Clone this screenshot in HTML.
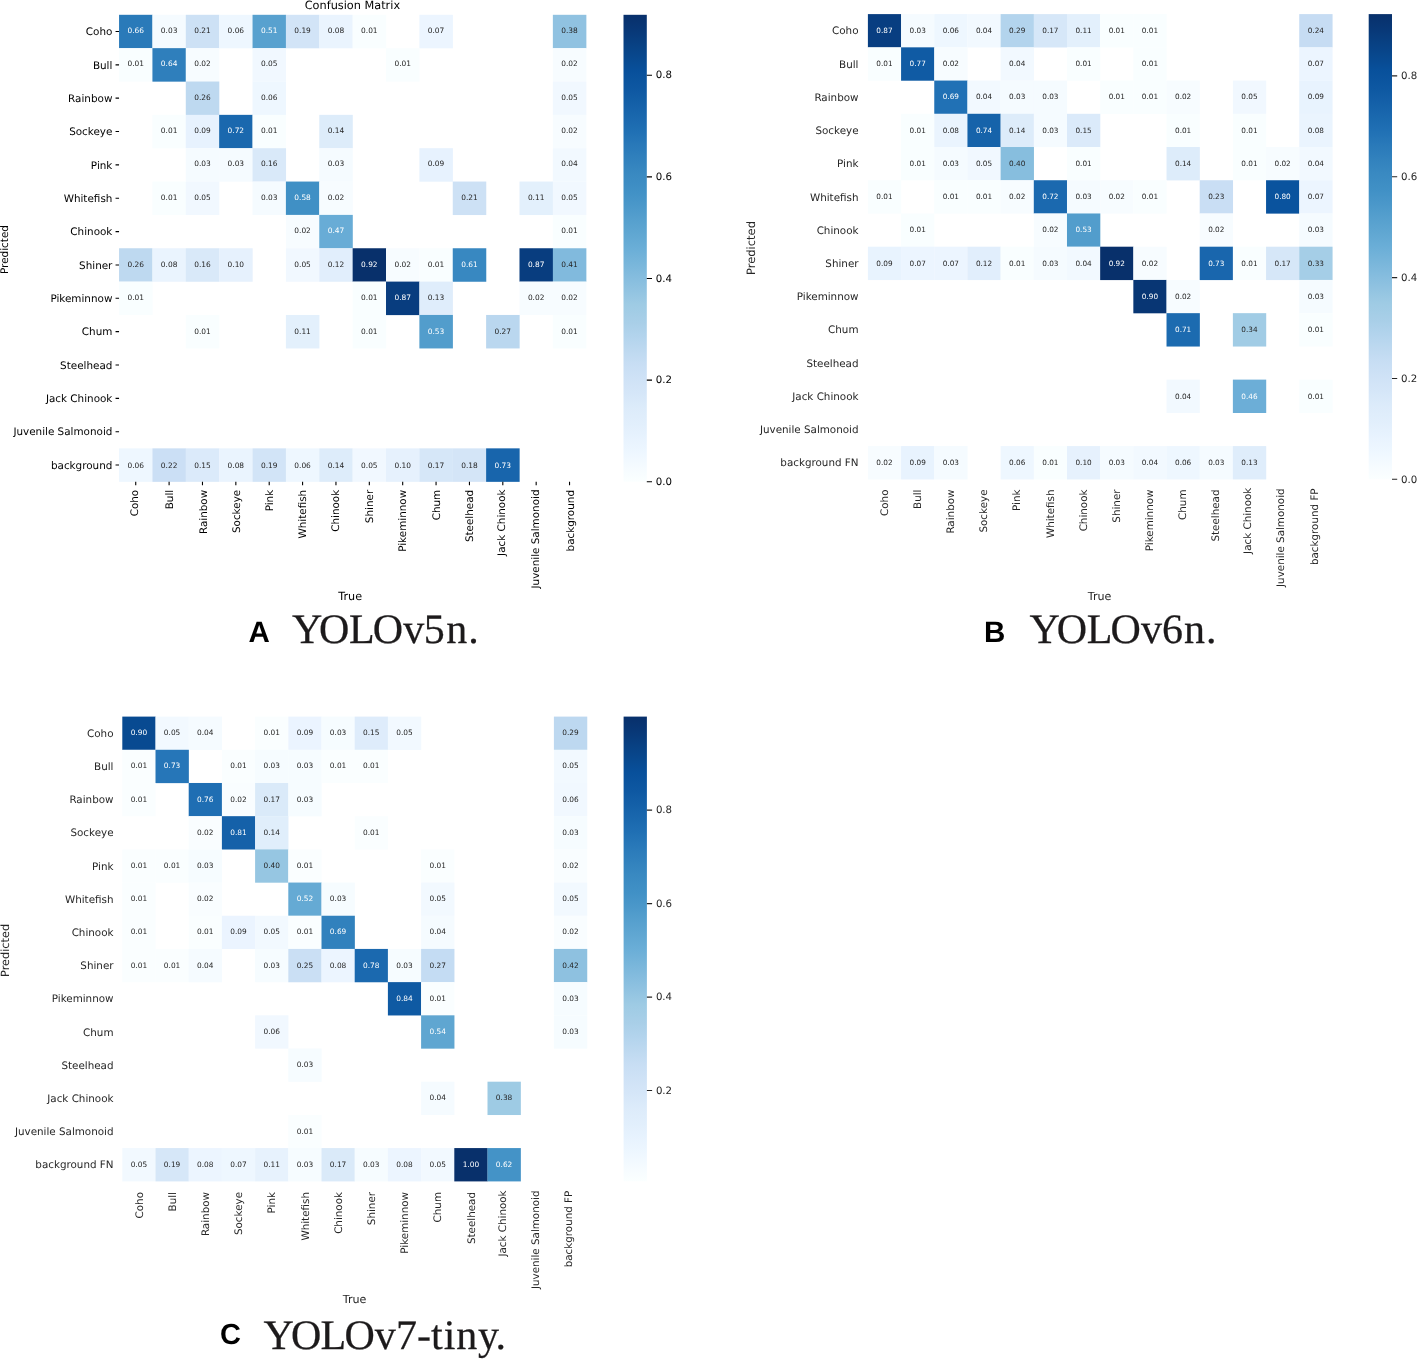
<!DOCTYPE html>
<html lang="en"><head><meta charset="utf-8"><title>Confusion matrices</title>
<style>
html,body{margin:0;padding:0;background:#fff;}
body{width:1417px;height:1359px;overflow:hidden;}
svg{display:block;font-family:"DejaVu Sans","Liberation Sans",sans-serif;}
</style></head><body>
<svg width="1417" height="1359" viewBox="0 0 1417 1359" text-rendering="geometricPrecision">
<rect width="1417" height="1359" fill="#fff"/>
<g>
<rect x="119.05" y="14.8" width="33.52" height="33.5" fill="#2a7ab9"/>
<rect x="152.42" y="14.8" width="33.52" height="33.5" fill="#f5fbff"/>
<rect x="185.79" y="14.8" width="33.52" height="33.5" fill="#cde1f5"/>
<rect x="219.16" y="14.8" width="33.52" height="33.5" fill="#eef7ff"/>
<rect x="252.53" y="14.8" width="33.52" height="33.5" fill="#58a1cf"/>
<rect x="285.9" y="14.8" width="33.52" height="33.5" fill="#d2e4f7"/>
<rect x="319.27" y="14.8" width="33.52" height="33.5" fill="#eaf4fe"/>
<rect x="352.64" y="14.8" width="33.52" height="33.5" fill="#f9feff"/>
<rect x="419.38" y="14.8" width="33.52" height="33.5" fill="#ecf5ff"/>
<rect x="552.86" y="14.8" width="33.52" height="33.5" fill="#90c2e1"/>
<rect x="119.05" y="48.15" width="33.52" height="33.5" fill="#f9feff"/>
<rect x="152.42" y="48.15" width="33.52" height="33.5" fill="#2f7fbc"/>
<rect x="185.79" y="48.15" width="33.52" height="33.5" fill="#f7fcff"/>
<rect x="252.53" y="48.15" width="33.52" height="33.5" fill="#f1f8ff"/>
<rect x="386.01" y="48.15" width="33.52" height="33.5" fill="#f9feff"/>
<rect x="552.86" y="48.15" width="33.52" height="33.5" fill="#f7fcff"/>
<rect x="185.79" y="81.5" width="33.52" height="33.5" fill="#bed9f0"/>
<rect x="252.53" y="81.5" width="33.52" height="33.5" fill="#eef7ff"/>
<rect x="552.86" y="81.5" width="33.52" height="33.5" fill="#f1f8ff"/>
<rect x="152.42" y="114.85" width="33.52" height="33.5" fill="#f9feff"/>
<rect x="185.79" y="114.85" width="33.52" height="33.5" fill="#e7f2fe"/>
<rect x="219.16" y="114.85" width="33.52" height="33.5" fill="#1a68ae"/>
<rect x="252.53" y="114.85" width="33.52" height="33.5" fill="#f9feff"/>
<rect x="319.27" y="114.85" width="33.52" height="33.5" fill="#ddecfa"/>
<rect x="552.86" y="114.85" width="33.52" height="33.5" fill="#f7fcff"/>
<rect x="185.79" y="148.2" width="33.52" height="33.5" fill="#f5fbff"/>
<rect x="219.16" y="148.2" width="33.52" height="33.5" fill="#f5fbff"/>
<rect x="252.53" y="148.2" width="33.52" height="33.5" fill="#d9e9f9"/>
<rect x="319.27" y="148.2" width="33.52" height="33.5" fill="#f5fbff"/>
<rect x="419.38" y="148.2" width="33.52" height="33.5" fill="#e7f2fe"/>
<rect x="552.86" y="148.2" width="33.52" height="33.5" fill="#f2f9ff"/>
<rect x="152.42" y="181.55" width="33.52" height="33.5" fill="#f9feff"/>
<rect x="185.79" y="181.55" width="33.52" height="33.5" fill="#f1f8ff"/>
<rect x="252.53" y="181.55" width="33.52" height="33.5" fill="#f5fbff"/>
<rect x="285.9" y="181.55" width="33.52" height="33.5" fill="#4090c5"/>
<rect x="319.27" y="181.55" width="33.52" height="33.5" fill="#f7fcff"/>
<rect x="452.75" y="181.55" width="33.52" height="33.5" fill="#cde1f5"/>
<rect x="519.49" y="181.55" width="33.52" height="33.5" fill="#e3f0fc"/>
<rect x="552.86" y="181.55" width="33.52" height="33.5" fill="#f1f8ff"/>
<rect x="285.9" y="214.9" width="33.52" height="33.5" fill="#f7fcff"/>
<rect x="319.27" y="214.9" width="33.52" height="33.5" fill="#68acd6"/>
<rect x="552.86" y="214.9" width="33.52" height="33.5" fill="#f9feff"/>
<rect x="119.05" y="248.25" width="33.52" height="33.5" fill="#bed9f0"/>
<rect x="152.42" y="248.25" width="33.52" height="33.5" fill="#eaf4fe"/>
<rect x="185.79" y="248.25" width="33.52" height="33.5" fill="#d9e9f9"/>
<rect x="219.16" y="248.25" width="33.52" height="33.5" fill="#e6f1fd"/>
<rect x="285.9" y="248.25" width="33.52" height="33.5" fill="#f1f8ff"/>
<rect x="319.27" y="248.25" width="33.52" height="33.5" fill="#e1eefc"/>
<rect x="352.64" y="248.25" width="33.52" height="33.5" fill="#08306b"/>
<rect x="386.01" y="248.25" width="33.52" height="33.5" fill="#f7fcff"/>
<rect x="419.38" y="248.25" width="33.52" height="33.5" fill="#f9feff"/>
<rect x="452.75" y="248.25" width="33.52" height="33.5" fill="#3888c1"/>
<rect x="519.49" y="248.25" width="33.52" height="33.5" fill="#083d7f"/>
<rect x="552.86" y="248.25" width="33.52" height="33.5" fill="#81badd"/>
<rect x="119.05" y="281.6" width="33.52" height="33.5" fill="#f9feff"/>
<rect x="352.64" y="281.6" width="33.52" height="33.5" fill="#f9feff"/>
<rect x="386.01" y="281.6" width="33.52" height="33.5" fill="#083d7f"/>
<rect x="419.38" y="281.6" width="33.52" height="33.5" fill="#dfedfb"/>
<rect x="519.49" y="281.6" width="33.52" height="33.5" fill="#f7fcff"/>
<rect x="552.86" y="281.6" width="33.52" height="33.5" fill="#f7fcff"/>
<rect x="185.79" y="314.95" width="33.52" height="33.5" fill="#f9feff"/>
<rect x="285.9" y="314.95" width="33.52" height="33.5" fill="#e3f0fc"/>
<rect x="352.64" y="314.95" width="33.52" height="33.5" fill="#f9feff"/>
<rect x="419.38" y="314.95" width="33.52" height="33.5" fill="#529dcc"/>
<rect x="486.12" y="314.95" width="33.52" height="33.5" fill="#bad7ef"/>
<rect x="552.86" y="314.95" width="33.52" height="33.5" fill="#f9feff"/>
<rect x="119.05" y="448.35" width="33.52" height="33.5" fill="#eef7ff"/>
<rect x="152.42" y="448.35" width="33.52" height="33.5" fill="#cbdff5"/>
<rect x="185.79" y="448.35" width="33.52" height="33.5" fill="#dbeafa"/>
<rect x="219.16" y="448.35" width="33.52" height="33.5" fill="#eaf4fe"/>
<rect x="252.53" y="448.35" width="33.52" height="33.5" fill="#d2e4f7"/>
<rect x="285.9" y="448.35" width="33.52" height="33.5" fill="#eef7ff"/>
<rect x="319.27" y="448.35" width="33.52" height="33.5" fill="#ddecfa"/>
<rect x="352.64" y="448.35" width="33.52" height="33.5" fill="#f1f8ff"/>
<rect x="386.01" y="448.35" width="33.52" height="33.5" fill="#e6f1fd"/>
<rect x="419.38" y="448.35" width="33.52" height="33.5" fill="#d6e7f8"/>
<rect x="452.75" y="448.35" width="33.52" height="33.5" fill="#d4e5f7"/>
<rect x="486.12" y="448.35" width="33.52" height="33.5" fill="#1865ac"/>
<g font-size="7.45" text-anchor="middle">
<text x="135.73" y="32.67" fill="#ffffff">0.66</text>
<text x="169.1" y="32.67" fill="#262626">0.03</text>
<text x="202.47" y="32.67" fill="#262626">0.21</text>
<text x="235.84" y="32.67" fill="#262626">0.06</text>
<text x="269.21" y="32.67" fill="#ffffff">0.51</text>
<text x="302.58" y="32.67" fill="#262626">0.19</text>
<text x="335.95" y="32.67" fill="#262626">0.08</text>
<text x="369.32" y="32.67" fill="#262626">0.01</text>
<text x="436.06" y="32.67" fill="#262626">0.07</text>
<text x="569.54" y="32.67" fill="#262626">0.38</text>
<text x="135.73" y="66.13" fill="#262626">0.01</text>
<text x="169.1" y="66.13" fill="#ffffff">0.64</text>
<text x="202.47" y="66.13" fill="#262626">0.02</text>
<text x="269.21" y="66.13" fill="#262626">0.05</text>
<text x="402.69" y="66.13" fill="#262626">0.01</text>
<text x="569.54" y="66.13" fill="#262626">0.02</text>
<text x="202.47" y="99.58" fill="#262626">0.26</text>
<text x="269.21" y="99.58" fill="#262626">0.06</text>
<text x="569.54" y="99.58" fill="#262626">0.05</text>
<text x="169.1" y="133.03" fill="#262626">0.01</text>
<text x="202.47" y="133.03" fill="#262626">0.09</text>
<text x="235.84" y="133.03" fill="#ffffff">0.72</text>
<text x="269.21" y="133.03" fill="#262626">0.01</text>
<text x="335.95" y="133.03" fill="#262626">0.14</text>
<text x="569.54" y="133.03" fill="#262626">0.02</text>
<text x="202.47" y="166.48" fill="#262626">0.03</text>
<text x="235.84" y="166.48" fill="#262626">0.03</text>
<text x="269.21" y="166.48" fill="#262626">0.16</text>
<text x="335.95" y="166.48" fill="#262626">0.03</text>
<text x="436.06" y="166.48" fill="#262626">0.09</text>
<text x="569.54" y="166.48" fill="#262626">0.04</text>
<text x="169.1" y="199.93" fill="#262626">0.01</text>
<text x="202.47" y="199.93" fill="#262626">0.05</text>
<text x="269.21" y="199.93" fill="#262626">0.03</text>
<text x="302.58" y="199.93" fill="#ffffff">0.58</text>
<text x="335.95" y="199.93" fill="#262626">0.02</text>
<text x="469.44" y="199.93" fill="#262626">0.21</text>
<text x="536.17" y="199.93" fill="#262626">0.11</text>
<text x="569.54" y="199.93" fill="#262626">0.05</text>
<text x="302.58" y="233.38" fill="#262626">0.02</text>
<text x="335.95" y="233.38" fill="#ffffff">0.47</text>
<text x="569.54" y="233.38" fill="#262626">0.01</text>
<text x="135.73" y="266.82" fill="#262626">0.26</text>
<text x="169.1" y="266.82" fill="#262626">0.08</text>
<text x="202.47" y="266.82" fill="#262626">0.16</text>
<text x="235.84" y="266.82" fill="#262626">0.10</text>
<text x="302.58" y="266.82" fill="#262626">0.05</text>
<text x="335.95" y="266.82" fill="#262626">0.12</text>
<text x="369.32" y="266.82" fill="#ffffff">0.92</text>
<text x="402.69" y="266.82" fill="#262626">0.02</text>
<text x="436.06" y="266.82" fill="#262626">0.01</text>
<text x="469.44" y="266.82" fill="#ffffff">0.61</text>
<text x="536.17" y="266.82" fill="#ffffff">0.87</text>
<text x="569.54" y="266.82" fill="#262626">0.41</text>
<text x="135.73" y="300.28" fill="#262626">0.01</text>
<text x="369.32" y="300.28" fill="#262626">0.01</text>
<text x="402.69" y="300.28" fill="#ffffff">0.87</text>
<text x="436.06" y="300.28" fill="#262626">0.13</text>
<text x="536.17" y="300.28" fill="#262626">0.02</text>
<text x="569.54" y="300.28" fill="#262626">0.02</text>
<text x="202.47" y="333.72" fill="#262626">0.01</text>
<text x="302.58" y="333.72" fill="#262626">0.11</text>
<text x="369.32" y="333.72" fill="#262626">0.01</text>
<text x="436.06" y="333.72" fill="#ffffff">0.53</text>
<text x="502.81" y="333.72" fill="#262626">0.27</text>
<text x="569.54" y="333.72" fill="#262626">0.01</text>
<text x="135.73" y="467.53" fill="#262626">0.06</text>
<text x="169.1" y="467.53" fill="#262626">0.22</text>
<text x="202.47" y="467.53" fill="#262626">0.15</text>
<text x="235.84" y="467.53" fill="#262626">0.08</text>
<text x="269.21" y="467.53" fill="#262626">0.19</text>
<text x="302.58" y="467.53" fill="#262626">0.06</text>
<text x="335.95" y="467.53" fill="#262626">0.14</text>
<text x="369.32" y="467.53" fill="#262626">0.05</text>
<text x="402.69" y="467.53" fill="#262626">0.10</text>
<text x="436.06" y="467.53" fill="#262626">0.17</text>
<text x="469.44" y="467.53" fill="#262626">0.18</text>
<text x="502.81" y="467.53" fill="#ffffff">0.73</text>
</g>
<g font-size="10.4" text-anchor="end" fill="#000000">
<text x="112.4" y="35.18">Coho</text>
<text x="112.4" y="68.53">Bull</text>
<text x="112.4" y="101.88">Rainbow</text>
<text x="112.4" y="135.22">Sockeye</text>
<text x="112.4" y="168.58">Pink</text>
<text x="112.4" y="201.93">Whitefish</text>
<text x="112.4" y="235.28">Chinook</text>
<text x="112.4" y="268.62">Shiner</text>
<text x="112.4" y="301.98">Pikeminnow</text>
<text x="112.4" y="335.32">Chum</text>
<text x="112.4" y="368.68">Steelhead</text>
<text x="112.4" y="402.03">Jack Chinook</text>
<text x="112.4" y="435.38">Juvenile Salmonoid</text>
<text x="112.4" y="468.73">background</text>
</g>
<g font-size="10.4" text-anchor="end" fill="#000000">
<text transform="translate(138.23 489.8) rotate(-90)">Coho</text>
<text transform="translate(172.8 489.8) rotate(-90)">Bull</text>
<text transform="translate(206.87 489.8) rotate(-90)">Rainbow</text>
<text transform="translate(239.54 489.8) rotate(-90)">Sockeye</text>
<text transform="translate(272.91 489.8) rotate(-90)">Pink</text>
<text transform="translate(306.28 489.8) rotate(-90)">Whitefish</text>
<text transform="translate(338.75 489.8) rotate(-90)">Chinook</text>
<text transform="translate(373.02 489.8) rotate(-90)">Shiner</text>
<text transform="translate(406.39 489.8) rotate(-90)">Pikeminnow</text>
<text transform="translate(439.76 489.8) rotate(-90)">Chum</text>
<text transform="translate(473.13 489.8) rotate(-90)">Steelhead</text>
<text transform="translate(504.9 489.4) rotate(-90)">Jack Chinook</text>
<text transform="translate(538.58 489.5) rotate(-90)">Juvenile Salmonoid</text>
<text transform="translate(574.14 490) rotate(-90)">background</text>
</g>
<path d="M115.55 31.48h3.5M115.55 64.83h3.5M115.55 98.17h3.5M115.55 131.53h3.5M115.55 164.88h3.5M115.55 198.23h3.5M115.55 231.58h3.5M115.55 264.93h3.5M115.55 298.28h3.5M115.55 331.62h3.5M115.55 364.98h3.5M115.55 398.33h3.5M115.55 431.68h3.5M115.55 465.03h3.5M135.73 481.7v3.5M169.1 481.7v3.5M202.47 481.7v3.5M235.84 481.7v3.5M269.21 481.7v3.5M302.58 481.7v3.5M335.95 481.7v3.5M369.32 481.7v3.5M402.69 481.7v3.5M436.06 481.7v3.5M469.44 481.7v3.5M502.81 481.7v3.5M536.17 481.7v3.5M569.54 481.7v3.5" stroke="#000" stroke-width="1.1" fill="none"/>
<text x="350.2" y="599.8" font-size="11.2" text-anchor="middle" fill="#000000">True</text>
<text transform="translate(7.8 249.5) rotate(-90)" font-size="10.45" text-anchor="middle" fill="#000000">Predicted</text>
<text x="352.4" y="8.8" font-size="11.3" text-anchor="middle" fill="#000000">Confusion Matrix</text>
<defs><linearGradient id="ga" x1="0" y1="0" x2="0" y2="1"><stop offset="0" stop-color="#08306b"/><stop offset="0.03" stop-color="#083776"/><stop offset="0.06" stop-color="#084082"/><stop offset="0.09" stop-color="#08488e"/><stop offset="0.12" stop-color="#08509b"/><stop offset="0.16" stop-color="#0e58a2"/><stop offset="0.19" stop-color="#1460a8"/><stop offset="0.22" stop-color="#1a68ae"/><stop offset="0.25" stop-color="#2070b4"/><stop offset="0.28" stop-color="#2979b9"/><stop offset="0.31" stop-color="#3181bd"/><stop offset="0.34" stop-color="#3989c1"/><stop offset="0.38" stop-color="#4191c6"/><stop offset="0.41" stop-color="#4b98ca"/><stop offset="0.44" stop-color="#56a0ce"/><stop offset="0.47" stop-color="#60a7d2"/><stop offset="0.5" stop-color="#6aaed7"/><stop offset="0.53" stop-color="#77b5da"/><stop offset="0.56" stop-color="#84bcde"/><stop offset="0.59" stop-color="#91c3e1"/><stop offset="0.62" stop-color="#9ecbe4"/><stop offset="0.66" stop-color="#a9cfe8"/><stop offset="0.69" stop-color="#b3d4ed"/><stop offset="0.72" stop-color="#bed9f0"/><stop offset="0.75" stop-color="#c8def4"/><stop offset="0.78" stop-color="#cfe2f6"/><stop offset="0.81" stop-color="#d5e6f8"/><stop offset="0.84" stop-color="#dcebfa"/><stop offset="0.88" stop-color="#e2effc"/><stop offset="0.91" stop-color="#e8f3fe"/><stop offset="0.94" stop-color="#eef7ff"/><stop offset="0.97" stop-color="#f5fbff"/><stop offset="1" stop-color="#fbffff"/></linearGradient></defs>
<rect x="623.5" y="14.8" width="23.3" height="466.9" fill="url(#ga)"/>
<g font-size="10.2" fill="#000000">
<text x="655.8" y="484.9">0.0</text>
<text x="655.8" y="383.29">0.2</text>
<text x="655.8" y="281.68">0.4</text>
<text x="655.8" y="180.07">0.6</text>
<text x="655.8" y="78.46">0.8</text>
</g>
<path d="M646.8 481.7h5.2M646.8 380.09h5.2M646.8 278.48h5.2M646.8 176.87h5.2M646.8 75.26h5.2" stroke="#000000" stroke-width="1.1" fill="none"/>
<text x="248.6" y="642" font-family="'Liberation Sans',sans-serif" font-weight="bold" font-size="29.5" fill="#000">A</text>
<text x="292.01 319.09 349.05 372.86 403.29 423.71 446.18 468.18" y="643.1" font-family="'Liberation Serif',serif" font-size="42" fill="#1c1a1b" stroke="#1c1a1b" stroke-width="0.25">YOLOv5n.</text>
</g>
<g>
<rect x="867.9" y="14.1" width="33.33" height="33.38" fill="#083e81"/>
<rect x="901.08" y="14.1" width="33.33" height="33.38" fill="#f5fbff"/>
<rect x="934.26" y="14.1" width="33.33" height="33.38" fill="#eef7ff"/>
<rect x="967.44" y="14.1" width="33.33" height="33.38" fill="#f2f9ff"/>
<rect x="1000.62" y="14.1" width="33.33" height="33.38" fill="#b3d4ed"/>
<rect x="1033.8" y="14.1" width="33.33" height="33.38" fill="#d6e7f8"/>
<rect x="1066.98" y="14.1" width="33.33" height="33.38" fill="#e3f0fc"/>
<rect x="1100.16" y="14.1" width="33.33" height="33.38" fill="#f9feff"/>
<rect x="1133.34" y="14.1" width="33.33" height="33.38" fill="#f9feff"/>
<rect x="1299.24" y="14.1" width="33.33" height="33.38" fill="#c6dcf3"/>
<rect x="867.9" y="47.33" width="33.33" height="33.38" fill="#f9feff"/>
<rect x="901.08" y="47.33" width="33.33" height="33.38" fill="#105ba4"/>
<rect x="934.26" y="47.33" width="33.33" height="33.38" fill="#f7fcff"/>
<rect x="1000.62" y="47.33" width="33.33" height="33.38" fill="#f2f9ff"/>
<rect x="1066.98" y="47.33" width="33.33" height="33.38" fill="#f9feff"/>
<rect x="1133.34" y="47.33" width="33.33" height="33.38" fill="#f9feff"/>
<rect x="1299.24" y="47.33" width="33.33" height="33.38" fill="#ecf5ff"/>
<rect x="934.26" y="80.56" width="33.33" height="33.38" fill="#2171b5"/>
<rect x="967.44" y="80.56" width="33.33" height="33.38" fill="#f2f9ff"/>
<rect x="1000.62" y="80.56" width="33.33" height="33.38" fill="#f5fbff"/>
<rect x="1033.8" y="80.56" width="33.33" height="33.38" fill="#f5fbff"/>
<rect x="1100.16" y="80.56" width="33.33" height="33.38" fill="#f9feff"/>
<rect x="1133.34" y="80.56" width="33.33" height="33.38" fill="#f9feff"/>
<rect x="1166.52" y="80.56" width="33.33" height="33.38" fill="#f7fcff"/>
<rect x="1232.88" y="80.56" width="33.33" height="33.38" fill="#f1f8ff"/>
<rect x="1299.24" y="80.56" width="33.33" height="33.38" fill="#e8f3fe"/>
<rect x="901.08" y="113.79" width="33.33" height="33.38" fill="#f9feff"/>
<rect x="934.26" y="113.79" width="33.33" height="33.38" fill="#eaf4fe"/>
<rect x="967.44" y="113.79" width="33.33" height="33.38" fill="#1663aa"/>
<rect x="1000.62" y="113.79" width="33.33" height="33.38" fill="#ddecfa"/>
<rect x="1033.8" y="113.79" width="33.33" height="33.38" fill="#f5fbff"/>
<rect x="1066.98" y="113.79" width="33.33" height="33.38" fill="#dbeafa"/>
<rect x="1166.52" y="113.79" width="33.33" height="33.38" fill="#f9feff"/>
<rect x="1232.88" y="113.79" width="33.33" height="33.38" fill="#f9feff"/>
<rect x="1299.24" y="113.79" width="33.33" height="33.38" fill="#eaf4fe"/>
<rect x="901.08" y="147.02" width="33.33" height="33.38" fill="#f9feff"/>
<rect x="934.26" y="147.02" width="33.33" height="33.38" fill="#f5fbff"/>
<rect x="967.44" y="147.02" width="33.33" height="33.38" fill="#f1f8ff"/>
<rect x="1000.62" y="147.02" width="33.33" height="33.38" fill="#87bede"/>
<rect x="1066.98" y="147.02" width="33.33" height="33.38" fill="#f9feff"/>
<rect x="1166.52" y="147.02" width="33.33" height="33.38" fill="#ddecfa"/>
<rect x="1232.88" y="147.02" width="33.33" height="33.38" fill="#f9feff"/>
<rect x="1266.06" y="147.02" width="33.33" height="33.38" fill="#f7fcff"/>
<rect x="1299.24" y="147.02" width="33.33" height="33.38" fill="#f2f9ff"/>
<rect x="867.9" y="180.24" width="33.33" height="33.38" fill="#f9feff"/>
<rect x="934.26" y="180.24" width="33.33" height="33.38" fill="#f9feff"/>
<rect x="967.44" y="180.24" width="33.33" height="33.38" fill="#f9feff"/>
<rect x="1000.62" y="180.24" width="33.33" height="33.38" fill="#f7fcff"/>
<rect x="1033.8" y="180.24" width="33.33" height="33.38" fill="#1b69af"/>
<rect x="1066.98" y="180.24" width="33.33" height="33.38" fill="#f5fbff"/>
<rect x="1100.16" y="180.24" width="33.33" height="33.38" fill="#f7fcff"/>
<rect x="1133.34" y="180.24" width="33.33" height="33.38" fill="#f9feff"/>
<rect x="1199.7" y="180.24" width="33.33" height="33.38" fill="#c9def4"/>
<rect x="1266.06" y="180.24" width="33.33" height="33.38" fill="#0a539e"/>
<rect x="1299.24" y="180.24" width="33.33" height="33.38" fill="#ecf5ff"/>
<rect x="901.08" y="213.47" width="33.33" height="33.38" fill="#f9feff"/>
<rect x="1033.8" y="213.47" width="33.33" height="33.38" fill="#f7fcff"/>
<rect x="1066.98" y="213.47" width="33.33" height="33.38" fill="#529dcc"/>
<rect x="1199.7" y="213.47" width="33.33" height="33.38" fill="#f7fcff"/>
<rect x="1299.24" y="213.47" width="33.33" height="33.38" fill="#f5fbff"/>
<rect x="867.9" y="246.7" width="33.33" height="33.38" fill="#e8f3fe"/>
<rect x="901.08" y="246.7" width="33.33" height="33.38" fill="#ecf5ff"/>
<rect x="934.26" y="246.7" width="33.33" height="33.38" fill="#ecf5ff"/>
<rect x="967.44" y="246.7" width="33.33" height="33.38" fill="#e1eefc"/>
<rect x="1000.62" y="246.7" width="33.33" height="33.38" fill="#f9feff"/>
<rect x="1033.8" y="246.7" width="33.33" height="33.38" fill="#f5fbff"/>
<rect x="1066.98" y="246.7" width="33.33" height="33.38" fill="#f2f9ff"/>
<rect x="1100.16" y="246.7" width="33.33" height="33.38" fill="#08306b"/>
<rect x="1133.34" y="246.7" width="33.33" height="33.38" fill="#f7fcff"/>
<rect x="1199.7" y="246.7" width="33.33" height="33.38" fill="#1966ad"/>
<rect x="1232.88" y="246.7" width="33.33" height="33.38" fill="#f9feff"/>
<rect x="1266.06" y="246.7" width="33.33" height="33.38" fill="#d6e7f8"/>
<rect x="1299.24" y="246.7" width="33.33" height="33.38" fill="#a5cee7"/>
<rect x="1133.34" y="279.93" width="33.33" height="33.38" fill="#083674"/>
<rect x="1166.52" y="279.93" width="33.33" height="33.38" fill="#f7fcff"/>
<rect x="1299.24" y="279.93" width="33.33" height="33.38" fill="#f5fbff"/>
<rect x="1166.52" y="313.16" width="33.33" height="33.38" fill="#1c6bb0"/>
<rect x="1232.88" y="313.16" width="33.33" height="33.38" fill="#a1cce5"/>
<rect x="1299.24" y="313.16" width="33.33" height="33.38" fill="#f9feff"/>
<rect x="1166.52" y="379.62" width="33.33" height="33.38" fill="#f2f9ff"/>
<rect x="1232.88" y="379.62" width="33.33" height="33.38" fill="#6caed7"/>
<rect x="1299.24" y="379.62" width="33.33" height="33.38" fill="#f9feff"/>
<rect x="867.9" y="446.08" width="33.33" height="33.38" fill="#f7fcff"/>
<rect x="901.08" y="446.08" width="33.33" height="33.38" fill="#e8f3fe"/>
<rect x="934.26" y="446.08" width="33.33" height="33.38" fill="#f5fbff"/>
<rect x="1000.62" y="446.08" width="33.33" height="33.38" fill="#eef7ff"/>
<rect x="1033.8" y="446.08" width="33.33" height="33.38" fill="#f9feff"/>
<rect x="1066.98" y="446.08" width="33.33" height="33.38" fill="#e6f1fd"/>
<rect x="1100.16" y="446.08" width="33.33" height="33.38" fill="#f5fbff"/>
<rect x="1133.34" y="446.08" width="33.33" height="33.38" fill="#f2f9ff"/>
<rect x="1166.52" y="446.08" width="33.33" height="33.38" fill="#eef7ff"/>
<rect x="1199.7" y="446.08" width="33.33" height="33.38" fill="#f5fbff"/>
<rect x="1232.88" y="446.08" width="33.33" height="33.38" fill="#dfedfb"/>
<g font-size="7.3" text-anchor="middle">
<text x="884.49" y="33.01" fill="#ffffff">0.87</text>
<text x="917.67" y="33.01" fill="#262626">0.03</text>
<text x="950.85" y="33.01" fill="#262626">0.06</text>
<text x="984.03" y="33.01" fill="#262626">0.04</text>
<text x="1017.21" y="33.01" fill="#262626">0.29</text>
<text x="1050.39" y="33.01" fill="#262626">0.17</text>
<text x="1083.57" y="33.01" fill="#262626">0.11</text>
<text x="1116.75" y="33.01" fill="#262626">0.01</text>
<text x="1149.93" y="33.01" fill="#262626">0.01</text>
<text x="1315.83" y="33.01" fill="#262626">0.24</text>
<text x="884.49" y="66.24" fill="#262626">0.01</text>
<text x="917.67" y="66.24" fill="#ffffff">0.77</text>
<text x="950.85" y="66.24" fill="#262626">0.02</text>
<text x="1017.21" y="66.24" fill="#262626">0.04</text>
<text x="1083.57" y="66.24" fill="#262626">0.01</text>
<text x="1149.93" y="66.24" fill="#262626">0.01</text>
<text x="1315.83" y="66.24" fill="#262626">0.07</text>
<text x="950.85" y="99.47" fill="#ffffff">0.69</text>
<text x="984.03" y="99.47" fill="#262626">0.04</text>
<text x="1017.21" y="99.47" fill="#262626">0.03</text>
<text x="1050.39" y="99.47" fill="#262626">0.03</text>
<text x="1116.75" y="99.47" fill="#262626">0.01</text>
<text x="1149.93" y="99.47" fill="#262626">0.01</text>
<text x="1183.11" y="99.47" fill="#262626">0.02</text>
<text x="1249.47" y="99.47" fill="#262626">0.05</text>
<text x="1315.83" y="99.47" fill="#262626">0.09</text>
<text x="917.67" y="132.7" fill="#262626">0.01</text>
<text x="950.85" y="132.7" fill="#262626">0.08</text>
<text x="984.03" y="132.7" fill="#ffffff">0.74</text>
<text x="1017.21" y="132.7" fill="#262626">0.14</text>
<text x="1050.39" y="132.7" fill="#262626">0.03</text>
<text x="1083.57" y="132.7" fill="#262626">0.15</text>
<text x="1183.11" y="132.7" fill="#262626">0.01</text>
<text x="1249.47" y="132.7" fill="#262626">0.01</text>
<text x="1315.83" y="132.7" fill="#262626">0.08</text>
<text x="917.67" y="165.93" fill="#262626">0.01</text>
<text x="950.85" y="165.93" fill="#262626">0.03</text>
<text x="984.03" y="165.93" fill="#262626">0.05</text>
<text x="1017.21" y="165.93" fill="#262626">0.40</text>
<text x="1083.57" y="165.93" fill="#262626">0.01</text>
<text x="1183.11" y="165.93" fill="#262626">0.14</text>
<text x="1249.47" y="165.93" fill="#262626">0.01</text>
<text x="1282.65" y="165.93" fill="#262626">0.02</text>
<text x="1315.83" y="165.93" fill="#262626">0.04</text>
<text x="884.49" y="199.16" fill="#262626">0.01</text>
<text x="950.85" y="199.16" fill="#262626">0.01</text>
<text x="984.03" y="199.16" fill="#262626">0.01</text>
<text x="1017.21" y="199.16" fill="#262626">0.02</text>
<text x="1050.39" y="199.16" fill="#ffffff">0.72</text>
<text x="1083.57" y="199.16" fill="#262626">0.03</text>
<text x="1116.75" y="199.16" fill="#262626">0.02</text>
<text x="1149.93" y="199.16" fill="#262626">0.01</text>
<text x="1216.29" y="199.16" fill="#262626">0.23</text>
<text x="1282.65" y="199.16" fill="#ffffff">0.80</text>
<text x="1315.83" y="199.16" fill="#262626">0.07</text>
<text x="917.67" y="232.39" fill="#262626">0.01</text>
<text x="1050.39" y="232.39" fill="#262626">0.02</text>
<text x="1083.57" y="232.39" fill="#ffffff">0.53</text>
<text x="1216.29" y="232.39" fill="#262626">0.02</text>
<text x="1315.83" y="232.39" fill="#262626">0.03</text>
<text x="884.49" y="265.62" fill="#262626">0.09</text>
<text x="917.67" y="265.62" fill="#262626">0.07</text>
<text x="950.85" y="265.62" fill="#262626">0.07</text>
<text x="984.03" y="265.62" fill="#262626">0.12</text>
<text x="1017.21" y="265.62" fill="#262626">0.01</text>
<text x="1050.39" y="265.62" fill="#262626">0.03</text>
<text x="1083.57" y="265.62" fill="#262626">0.04</text>
<text x="1116.75" y="265.62" fill="#ffffff">0.92</text>
<text x="1149.93" y="265.62" fill="#262626">0.02</text>
<text x="1216.29" y="265.62" fill="#ffffff">0.73</text>
<text x="1249.47" y="265.62" fill="#262626">0.01</text>
<text x="1282.65" y="265.62" fill="#262626">0.17</text>
<text x="1315.83" y="265.62" fill="#262626">0.33</text>
<text x="1149.93" y="298.85" fill="#ffffff">0.90</text>
<text x="1183.11" y="298.85" fill="#262626">0.02</text>
<text x="1315.83" y="298.85" fill="#262626">0.03</text>
<text x="1183.11" y="332.08" fill="#ffffff">0.71</text>
<text x="1249.47" y="332.08" fill="#262626">0.34</text>
<text x="1315.83" y="332.08" fill="#262626">0.01</text>
<text x="1183.11" y="398.53" fill="#262626">0.04</text>
<text x="1249.47" y="398.53" fill="#ffffff">0.46</text>
<text x="1315.83" y="398.53" fill="#262626">0.01</text>
<text x="884.49" y="464.99" fill="#262626">0.02</text>
<text x="917.67" y="464.99" fill="#262626">0.09</text>
<text x="950.85" y="464.99" fill="#262626">0.03</text>
<text x="1017.21" y="464.99" fill="#262626">0.06</text>
<text x="1050.39" y="464.99" fill="#262626">0.01</text>
<text x="1083.57" y="464.99" fill="#262626">0.10</text>
<text x="1116.75" y="464.99" fill="#262626">0.03</text>
<text x="1149.93" y="464.99" fill="#262626">0.04</text>
<text x="1183.11" y="464.99" fill="#262626">0.06</text>
<text x="1216.29" y="464.99" fill="#262626">0.03</text>
<text x="1249.47" y="464.99" fill="#262626">0.13</text>
</g>
<g font-size="10.35" text-anchor="end" fill="#262626">
<text x="858.5" y="34.41">Coho</text>
<text x="858.5" y="67.64">Bull</text>
<text x="858.5" y="100.87">Rainbow</text>
<text x="858.5" y="134.1">Sockeye</text>
<text x="858.5" y="167.33">Pink</text>
<text x="858.5" y="200.56">Whitefish</text>
<text x="858.5" y="233.79">Chinook</text>
<text x="858.5" y="267.02">Shiner</text>
<text x="858.5" y="300.25">Pikeminnow</text>
<text x="858.5" y="333.48">Chum</text>
<text x="858.5" y="366.7">Steelhead</text>
<text x="858.5" y="399.93">Jack Chinook</text>
<text x="858.5" y="433.16">Juvenile Salmonoid</text>
<text x="858.5" y="466.39">background FN</text>
</g>
<g font-size="10.35" text-anchor="end" fill="#262626">
<text transform="translate(887.69 489.5) rotate(-90)">Coho</text>
<text transform="translate(920.87 489.5) rotate(-90)">Bull</text>
<text transform="translate(954.05 489.5) rotate(-90)">Rainbow</text>
<text transform="translate(987.23 489.5) rotate(-90)">Sockeye</text>
<text transform="translate(1020.41 489.5) rotate(-90)">Pink</text>
<text transform="translate(1053.59 489.5) rotate(-90)">Whitefish</text>
<text transform="translate(1086.77 489.5) rotate(-90)">Chinook</text>
<text transform="translate(1119.95 489.5) rotate(-90)">Shiner</text>
<text transform="translate(1153.13 489.5) rotate(-90)">Pikeminnow</text>
<text transform="translate(1186.31 489.5) rotate(-90)">Chum</text>
<text transform="translate(1219.49 489.5) rotate(-90)">Steelhead</text>
<text transform="translate(1251.17 487.7) rotate(-90)">Jack Chinook</text>
<text transform="translate(1284.45 488.4) rotate(-90)">Juvenile Salmonoid</text>
<text transform="translate(1317.63 488.4) rotate(-90)">background FP</text>
</g>
<text x="1099.6" y="599.9" font-size="11.1" text-anchor="middle" fill="#262626">True</text>
<text transform="translate(755.1 248) rotate(-90)" font-size="11.5" text-anchor="middle" fill="#262626">Predicted</text>
<defs><linearGradient id="gb" x1="0" y1="0" x2="0" y2="1"><stop offset="0" stop-color="#08306b"/><stop offset="0.03" stop-color="#083776"/><stop offset="0.06" stop-color="#084082"/><stop offset="0.09" stop-color="#08488e"/><stop offset="0.12" stop-color="#08509b"/><stop offset="0.16" stop-color="#0e58a2"/><stop offset="0.19" stop-color="#1460a8"/><stop offset="0.22" stop-color="#1a68ae"/><stop offset="0.25" stop-color="#2070b4"/><stop offset="0.28" stop-color="#2979b9"/><stop offset="0.31" stop-color="#3181bd"/><stop offset="0.34" stop-color="#3989c1"/><stop offset="0.38" stop-color="#4191c6"/><stop offset="0.41" stop-color="#4b98ca"/><stop offset="0.44" stop-color="#56a0ce"/><stop offset="0.47" stop-color="#60a7d2"/><stop offset="0.5" stop-color="#6aaed7"/><stop offset="0.53" stop-color="#77b5da"/><stop offset="0.56" stop-color="#84bcde"/><stop offset="0.59" stop-color="#91c3e1"/><stop offset="0.62" stop-color="#9ecbe4"/><stop offset="0.66" stop-color="#a9cfe8"/><stop offset="0.69" stop-color="#b3d4ed"/><stop offset="0.72" stop-color="#bed9f0"/><stop offset="0.75" stop-color="#c8def4"/><stop offset="0.78" stop-color="#cfe2f6"/><stop offset="0.81" stop-color="#d5e6f8"/><stop offset="0.84" stop-color="#dcebfa"/><stop offset="0.88" stop-color="#e2effc"/><stop offset="0.91" stop-color="#e8f3fe"/><stop offset="0.94" stop-color="#eef7ff"/><stop offset="0.97" stop-color="#f5fbff"/><stop offset="1" stop-color="#fbffff"/></linearGradient></defs>
<rect x="1368.7" y="14.1" width="23.3" height="465.21" fill="url(#gb)"/>
<g font-size="10.2" fill="#262626">
<text x="1401" y="482.51">0.0</text>
<text x="1401" y="381.66">0.2</text>
<text x="1401" y="280.81">0.4</text>
<text x="1401" y="179.97">0.6</text>
<text x="1401" y="79.12">0.8</text>
</g>
<path d="M1392 479.31h5.2M1392 378.46h5.2M1392 277.61h5.2M1392 176.77h5.2M1392 75.92h5.2" stroke="#262626" stroke-width="1.1" fill="none"/>
<text x="983.9" y="642" font-family="'Liberation Sans',sans-serif" font-weight="bold" font-size="29.5" fill="#000">B</text>
<text x="1029.57 1056.72 1086.75 1110.57 1141 1161.89 1183.89 1205.88" y="643.1" font-family="'Liberation Serif',serif" font-size="42" fill="#1c1a1b" stroke="#1c1a1b" stroke-width="0.25">YOLOv6n.</text>
</g>
<g>
<rect x="122.3" y="716.6" width="33.35" height="33.34" fill="#084a91"/>
<rect x="155.5" y="716.6" width="33.35" height="33.34" fill="#f2f9ff"/>
<rect x="188.7" y="716.6" width="33.35" height="33.34" fill="#f5fbff"/>
<rect x="255.1" y="716.6" width="33.35" height="33.34" fill="#fafeff"/>
<rect x="288.3" y="716.6" width="33.35" height="33.34" fill="#ebf4ff"/>
<rect x="321.5" y="716.6" width="33.35" height="33.34" fill="#f6fcff"/>
<rect x="354.7" y="716.6" width="33.35" height="33.34" fill="#deecfb"/>
<rect x="387.9" y="716.6" width="33.35" height="33.34" fill="#f2f9ff"/>
<rect x="553.9" y="716.6" width="33.35" height="33.34" fill="#bdd8f0"/>
<rect x="122.3" y="749.79" width="33.35" height="33.34" fill="#fafeff"/>
<rect x="155.5" y="749.79" width="33.35" height="33.34" fill="#2676b8"/>
<rect x="221.9" y="749.79" width="33.35" height="33.34" fill="#fafeff"/>
<rect x="255.1" y="749.79" width="33.35" height="33.34" fill="#f6fcff"/>
<rect x="288.3" y="749.79" width="33.35" height="33.34" fill="#f6fcff"/>
<rect x="321.5" y="749.79" width="33.35" height="33.34" fill="#fafeff"/>
<rect x="354.7" y="749.79" width="33.35" height="33.34" fill="#fafeff"/>
<rect x="553.9" y="749.79" width="33.35" height="33.34" fill="#f2f9ff"/>
<rect x="122.3" y="782.98" width="33.35" height="33.34" fill="#fafeff"/>
<rect x="188.7" y="782.98" width="33.35" height="33.34" fill="#1f6eb3"/>
<rect x="221.9" y="782.98" width="33.35" height="33.34" fill="#f9fdff"/>
<rect x="255.1" y="782.98" width="33.35" height="33.34" fill="#daeaf9"/>
<rect x="288.3" y="782.98" width="33.35" height="33.34" fill="#f6fcff"/>
<rect x="553.9" y="782.98" width="33.35" height="33.34" fill="#f1f8ff"/>
<rect x="188.7" y="816.17" width="33.35" height="33.34" fill="#f9fdff"/>
<rect x="221.9" y="816.17" width="33.35" height="33.34" fill="#1561a9"/>
<rect x="255.1" y="816.17" width="33.35" height="33.34" fill="#e0eefb"/>
<rect x="354.7" y="816.17" width="33.35" height="33.34" fill="#fafeff"/>
<rect x="553.9" y="816.17" width="33.35" height="33.34" fill="#f6fcff"/>
<rect x="122.3" y="849.36" width="33.35" height="33.34" fill="#fafeff"/>
<rect x="155.5" y="849.36" width="33.35" height="33.34" fill="#fafeff"/>
<rect x="188.7" y="849.36" width="33.35" height="33.34" fill="#f6fcff"/>
<rect x="255.1" y="849.36" width="33.35" height="33.34" fill="#96c6e2"/>
<rect x="288.3" y="849.36" width="33.35" height="33.34" fill="#fafeff"/>
<rect x="421.1" y="849.36" width="33.35" height="33.34" fill="#fafeff"/>
<rect x="553.9" y="849.36" width="33.35" height="33.34" fill="#f9fdff"/>
<rect x="122.3" y="882.55" width="33.35" height="33.34" fill="#fafeff"/>
<rect x="188.7" y="882.55" width="33.35" height="33.34" fill="#f9fdff"/>
<rect x="288.3" y="882.55" width="33.35" height="33.34" fill="#65aad4"/>
<rect x="321.5" y="882.55" width="33.35" height="33.34" fill="#f6fcff"/>
<rect x="421.1" y="882.55" width="33.35" height="33.34" fill="#f2f9ff"/>
<rect x="553.9" y="882.55" width="33.35" height="33.34" fill="#f2f9ff"/>
<rect x="122.3" y="915.74" width="33.35" height="33.34" fill="#fafeff"/>
<rect x="188.7" y="915.74" width="33.35" height="33.34" fill="#fafeff"/>
<rect x="221.9" y="915.74" width="33.35" height="33.34" fill="#ebf4ff"/>
<rect x="255.1" y="915.74" width="33.35" height="33.34" fill="#f2f9ff"/>
<rect x="288.3" y="915.74" width="33.35" height="33.34" fill="#fafeff"/>
<rect x="321.5" y="915.74" width="33.35" height="33.34" fill="#3181bd"/>
<rect x="421.1" y="915.74" width="33.35" height="33.34" fill="#f5fbff"/>
<rect x="553.9" y="915.74" width="33.35" height="33.34" fill="#f9fdff"/>
<rect x="122.3" y="948.93" width="33.35" height="33.34" fill="#fafeff"/>
<rect x="155.5" y="948.93" width="33.35" height="33.34" fill="#fafeff"/>
<rect x="188.7" y="948.93" width="33.35" height="33.34" fill="#f5fbff"/>
<rect x="255.1" y="948.93" width="33.35" height="33.34" fill="#f6fcff"/>
<rect x="288.3" y="948.93" width="33.35" height="33.34" fill="#cadff4"/>
<rect x="321.5" y="948.93" width="33.35" height="33.34" fill="#ecf5ff"/>
<rect x="354.7" y="948.93" width="33.35" height="33.34" fill="#1b69af"/>
<rect x="387.9" y="948.93" width="33.35" height="33.34" fill="#f6fcff"/>
<rect x="421.1" y="948.93" width="33.35" height="33.34" fill="#c4dcf3"/>
<rect x="553.9" y="948.93" width="33.35" height="33.34" fill="#8ec1e0"/>
<rect x="387.9" y="982.12" width="33.35" height="33.34" fill="#0f5aa3"/>
<rect x="421.1" y="982.12" width="33.35" height="33.34" fill="#fafeff"/>
<rect x="553.9" y="982.12" width="33.35" height="33.34" fill="#f6fcff"/>
<rect x="255.1" y="1015.31" width="33.35" height="33.34" fill="#f1f8ff"/>
<rect x="421.1" y="1015.31" width="33.35" height="33.34" fill="#5fa6d1"/>
<rect x="553.9" y="1015.31" width="33.35" height="33.34" fill="#f6fcff"/>
<rect x="288.3" y="1048.5" width="33.35" height="33.34" fill="#f6fcff"/>
<rect x="421.1" y="1081.69" width="33.35" height="33.34" fill="#f5fbff"/>
<rect x="487.5" y="1081.69" width="33.35" height="33.34" fill="#9ecbe4"/>
<rect x="288.3" y="1114.88" width="33.35" height="33.34" fill="#fafeff"/>
<rect x="122.3" y="1148.07" width="33.35" height="33.34" fill="#f2f9ff"/>
<rect x="155.5" y="1148.07" width="33.35" height="33.34" fill="#d6e7f8"/>
<rect x="188.7" y="1148.07" width="33.35" height="33.34" fill="#ecf5ff"/>
<rect x="221.9" y="1148.07" width="33.35" height="33.34" fill="#eef7ff"/>
<rect x="255.1" y="1148.07" width="33.35" height="33.34" fill="#e7f2fd"/>
<rect x="288.3" y="1148.07" width="33.35" height="33.34" fill="#f6fcff"/>
<rect x="321.5" y="1148.07" width="33.35" height="33.34" fill="#daeaf9"/>
<rect x="354.7" y="1148.07" width="33.35" height="33.34" fill="#f6fcff"/>
<rect x="387.9" y="1148.07" width="33.35" height="33.34" fill="#ecf5ff"/>
<rect x="421.1" y="1148.07" width="33.35" height="33.34" fill="#f2f9ff"/>
<rect x="454.3" y="1148.07" width="33.35" height="33.34" fill="#08306b"/>
<rect x="487.5" y="1148.07" width="33.35" height="33.34" fill="#4493c7"/>
<g font-size="7.4" text-anchor="middle">
<text x="138.9" y="735.3" fill="#ffffff">0.90</text>
<text x="172.1" y="735.3" fill="#262626">0.05</text>
<text x="205.3" y="735.3" fill="#262626">0.04</text>
<text x="271.7" y="735.3" fill="#262626">0.01</text>
<text x="304.9" y="735.3" fill="#262626">0.09</text>
<text x="338.1" y="735.3" fill="#262626">0.03</text>
<text x="371.3" y="735.3" fill="#262626">0.15</text>
<text x="404.5" y="735.3" fill="#262626">0.05</text>
<text x="570.5" y="735.3" fill="#262626">0.29</text>
<text x="138.9" y="768.49" fill="#262626">0.01</text>
<text x="172.1" y="768.49" fill="#ffffff">0.73</text>
<text x="238.5" y="768.49" fill="#262626">0.01</text>
<text x="271.7" y="768.49" fill="#262626">0.03</text>
<text x="304.9" y="768.49" fill="#262626">0.03</text>
<text x="338.1" y="768.49" fill="#262626">0.01</text>
<text x="371.3" y="768.49" fill="#262626">0.01</text>
<text x="570.5" y="768.49" fill="#262626">0.05</text>
<text x="138.9" y="801.68" fill="#262626">0.01</text>
<text x="205.3" y="801.68" fill="#ffffff">0.76</text>
<text x="238.5" y="801.68" fill="#262626">0.02</text>
<text x="271.7" y="801.68" fill="#262626">0.17</text>
<text x="304.9" y="801.68" fill="#262626">0.03</text>
<text x="570.5" y="801.68" fill="#262626">0.06</text>
<text x="205.3" y="834.87" fill="#262626">0.02</text>
<text x="238.5" y="834.87" fill="#ffffff">0.81</text>
<text x="271.7" y="834.87" fill="#262626">0.14</text>
<text x="371.3" y="834.87" fill="#262626">0.01</text>
<text x="570.5" y="834.87" fill="#262626">0.03</text>
<text x="138.9" y="868.06" fill="#262626">0.01</text>
<text x="172.1" y="868.06" fill="#262626">0.01</text>
<text x="205.3" y="868.06" fill="#262626">0.03</text>
<text x="271.7" y="868.06" fill="#262626">0.40</text>
<text x="304.9" y="868.06" fill="#262626">0.01</text>
<text x="437.7" y="868.06" fill="#262626">0.01</text>
<text x="570.5" y="868.06" fill="#262626">0.02</text>
<text x="138.9" y="901.25" fill="#262626">0.01</text>
<text x="205.3" y="901.25" fill="#262626">0.02</text>
<text x="304.9" y="901.25" fill="#ffffff">0.52</text>
<text x="338.1" y="901.25" fill="#262626">0.03</text>
<text x="437.7" y="901.25" fill="#262626">0.05</text>
<text x="570.5" y="901.25" fill="#262626">0.05</text>
<text x="138.9" y="934.44" fill="#262626">0.01</text>
<text x="205.3" y="934.44" fill="#262626">0.01</text>
<text x="238.5" y="934.44" fill="#262626">0.09</text>
<text x="271.7" y="934.44" fill="#262626">0.05</text>
<text x="304.9" y="934.44" fill="#262626">0.01</text>
<text x="338.1" y="934.44" fill="#ffffff">0.69</text>
<text x="437.7" y="934.44" fill="#262626">0.04</text>
<text x="570.5" y="934.44" fill="#262626">0.02</text>
<text x="138.9" y="967.62" fill="#262626">0.01</text>
<text x="172.1" y="967.62" fill="#262626">0.01</text>
<text x="205.3" y="967.62" fill="#262626">0.04</text>
<text x="271.7" y="967.62" fill="#262626">0.03</text>
<text x="304.9" y="967.62" fill="#262626">0.25</text>
<text x="338.1" y="967.62" fill="#262626">0.08</text>
<text x="371.3" y="967.62" fill="#ffffff">0.78</text>
<text x="404.5" y="967.62" fill="#262626">0.03</text>
<text x="437.7" y="967.62" fill="#262626">0.27</text>
<text x="570.5" y="967.62" fill="#262626">0.42</text>
<text x="404.5" y="1000.82" fill="#ffffff">0.84</text>
<text x="437.7" y="1000.82" fill="#262626">0.01</text>
<text x="570.5" y="1000.82" fill="#262626">0.03</text>
<text x="271.7" y="1034" fill="#262626">0.06</text>
<text x="437.7" y="1034" fill="#ffffff">0.54</text>
<text x="570.5" y="1034" fill="#262626">0.03</text>
<text x="304.9" y="1067.19" fill="#262626">0.03</text>
<text x="437.7" y="1100.38" fill="#262626">0.04</text>
<text x="504.1" y="1100.38" fill="#262626">0.38</text>
<text x="304.9" y="1133.57" fill="#262626">0.01</text>
<text x="138.9" y="1166.76" fill="#262626">0.05</text>
<text x="172.1" y="1166.76" fill="#262626">0.19</text>
<text x="205.3" y="1166.76" fill="#262626">0.08</text>
<text x="238.5" y="1166.76" fill="#262626">0.07</text>
<text x="271.7" y="1166.76" fill="#262626">0.11</text>
<text x="304.9" y="1166.76" fill="#262626">0.03</text>
<text x="338.1" y="1166.76" fill="#262626">0.17</text>
<text x="371.3" y="1166.76" fill="#262626">0.03</text>
<text x="404.5" y="1166.76" fill="#262626">0.08</text>
<text x="437.7" y="1166.76" fill="#262626">0.05</text>
<text x="470.9" y="1166.76" fill="#ffffff">1.00</text>
<text x="504.1" y="1166.76" fill="#ffffff">0.62</text>
</g>
<g font-size="10.35" text-anchor="end" fill="#262626">
<text x="113.5" y="736.9">Coho</text>
<text x="113.5" y="770.09">Bull</text>
<text x="113.5" y="803.28">Rainbow</text>
<text x="113.5" y="836.47">Sockeye</text>
<text x="113.5" y="869.66">Pink</text>
<text x="113.5" y="902.85">Whitefish</text>
<text x="113.5" y="936.04">Chinook</text>
<text x="113.5" y="969.23">Shiner</text>
<text x="113.5" y="1002.42">Pikeminnow</text>
<text x="113.5" y="1035.61">Chum</text>
<text x="113.5" y="1068.8">Steelhead</text>
<text x="113.5" y="1101.98">Jack Chinook</text>
<text x="113.5" y="1135.17">Juvenile Salmonoid</text>
<text x="113.5" y="1168.37">background FN</text>
</g>
<g font-size="10.35" text-anchor="end" fill="#262626">
<text transform="translate(142.6 1192) rotate(-90)">Coho</text>
<text transform="translate(175.8 1192) rotate(-90)">Bull</text>
<text transform="translate(209 1192) rotate(-90)">Rainbow</text>
<text transform="translate(242.2 1192) rotate(-90)">Sockeye</text>
<text transform="translate(275.4 1192) rotate(-90)">Pink</text>
<text transform="translate(308.6 1192) rotate(-90)">Whitefish</text>
<text transform="translate(341.8 1192) rotate(-90)">Chinook</text>
<text transform="translate(375 1192) rotate(-90)">Shiner</text>
<text transform="translate(408.2 1192) rotate(-90)">Pikeminnow</text>
<text transform="translate(441.4 1192) rotate(-90)">Chum</text>
<text transform="translate(474.6 1192) rotate(-90)">Steelhead</text>
<text transform="translate(505.7 1190.4) rotate(-90)">Jack Chinook</text>
<text transform="translate(539 1190.5) rotate(-90)">Juvenile Salmonoid</text>
<text transform="translate(572.4 1190.7) rotate(-90)">background FP</text>
</g>
<text x="354.6" y="1302.8" font-size="11.1" text-anchor="middle" fill="#262626">True</text>
<text transform="translate(9 950.4) rotate(-90)" font-size="11.3" text-anchor="middle" fill="#262626">Predicted</text>
<defs><linearGradient id="gc" x1="0" y1="0" x2="0" y2="1"><stop offset="0" stop-color="#08306b"/><stop offset="0.03" stop-color="#083776"/><stop offset="0.06" stop-color="#084082"/><stop offset="0.09" stop-color="#08488e"/><stop offset="0.12" stop-color="#08509b"/><stop offset="0.16" stop-color="#0e58a2"/><stop offset="0.19" stop-color="#1460a8"/><stop offset="0.22" stop-color="#1a68ae"/><stop offset="0.25" stop-color="#2070b4"/><stop offset="0.28" stop-color="#2979b9"/><stop offset="0.31" stop-color="#3181bd"/><stop offset="0.34" stop-color="#3989c1"/><stop offset="0.38" stop-color="#4191c6"/><stop offset="0.41" stop-color="#4b98ca"/><stop offset="0.44" stop-color="#56a0ce"/><stop offset="0.47" stop-color="#60a7d2"/><stop offset="0.5" stop-color="#6aaed7"/><stop offset="0.53" stop-color="#77b5da"/><stop offset="0.56" stop-color="#84bcde"/><stop offset="0.59" stop-color="#91c3e1"/><stop offset="0.62" stop-color="#9ecbe4"/><stop offset="0.66" stop-color="#a9cfe8"/><stop offset="0.69" stop-color="#b3d4ed"/><stop offset="0.72" stop-color="#bed9f0"/><stop offset="0.75" stop-color="#c8def4"/><stop offset="0.78" stop-color="#cfe2f6"/><stop offset="0.81" stop-color="#d5e6f8"/><stop offset="0.84" stop-color="#dcebfa"/><stop offset="0.88" stop-color="#e2effc"/><stop offset="0.91" stop-color="#e8f3fe"/><stop offset="0.94" stop-color="#eef7ff"/><stop offset="0.97" stop-color="#f5fbff"/><stop offset="1" stop-color="#fbffff"/></linearGradient></defs>
<rect x="623.6" y="716.6" width="23.3" height="464.66" fill="url(#gc)"/>
<g font-size="10.2" fill="#262626">
<text x="655.9" y="1093.77">0.2</text>
<text x="655.9" y="1000.28">0.4</text>
<text x="655.9" y="906.79">0.6</text>
<text x="655.9" y="813.29">0.8</text>
</g>
<path d="M646.9 1090.57h5.2M646.9 997.08h5.2M646.9 903.59h5.2M646.9 810.09h5.2" stroke="#262626" stroke-width="1.1" fill="none"/>
<text x="220" y="1344.1" font-family="'Liberation Sans',sans-serif" font-weight="bold" font-size="29" fill="#000">C</text>
<text x="263.52 291.01 320.62 344.5 374.86 395.91 416.88 431.09 443.7 456.35 477.9 495.43" y="1349" font-family="'Liberation Serif',serif" font-size="42" fill="#1c1a1b" stroke="#1c1a1b" stroke-width="0.25">YOLOv7-tiny.</text>
</g>
</svg>
</body></html>
